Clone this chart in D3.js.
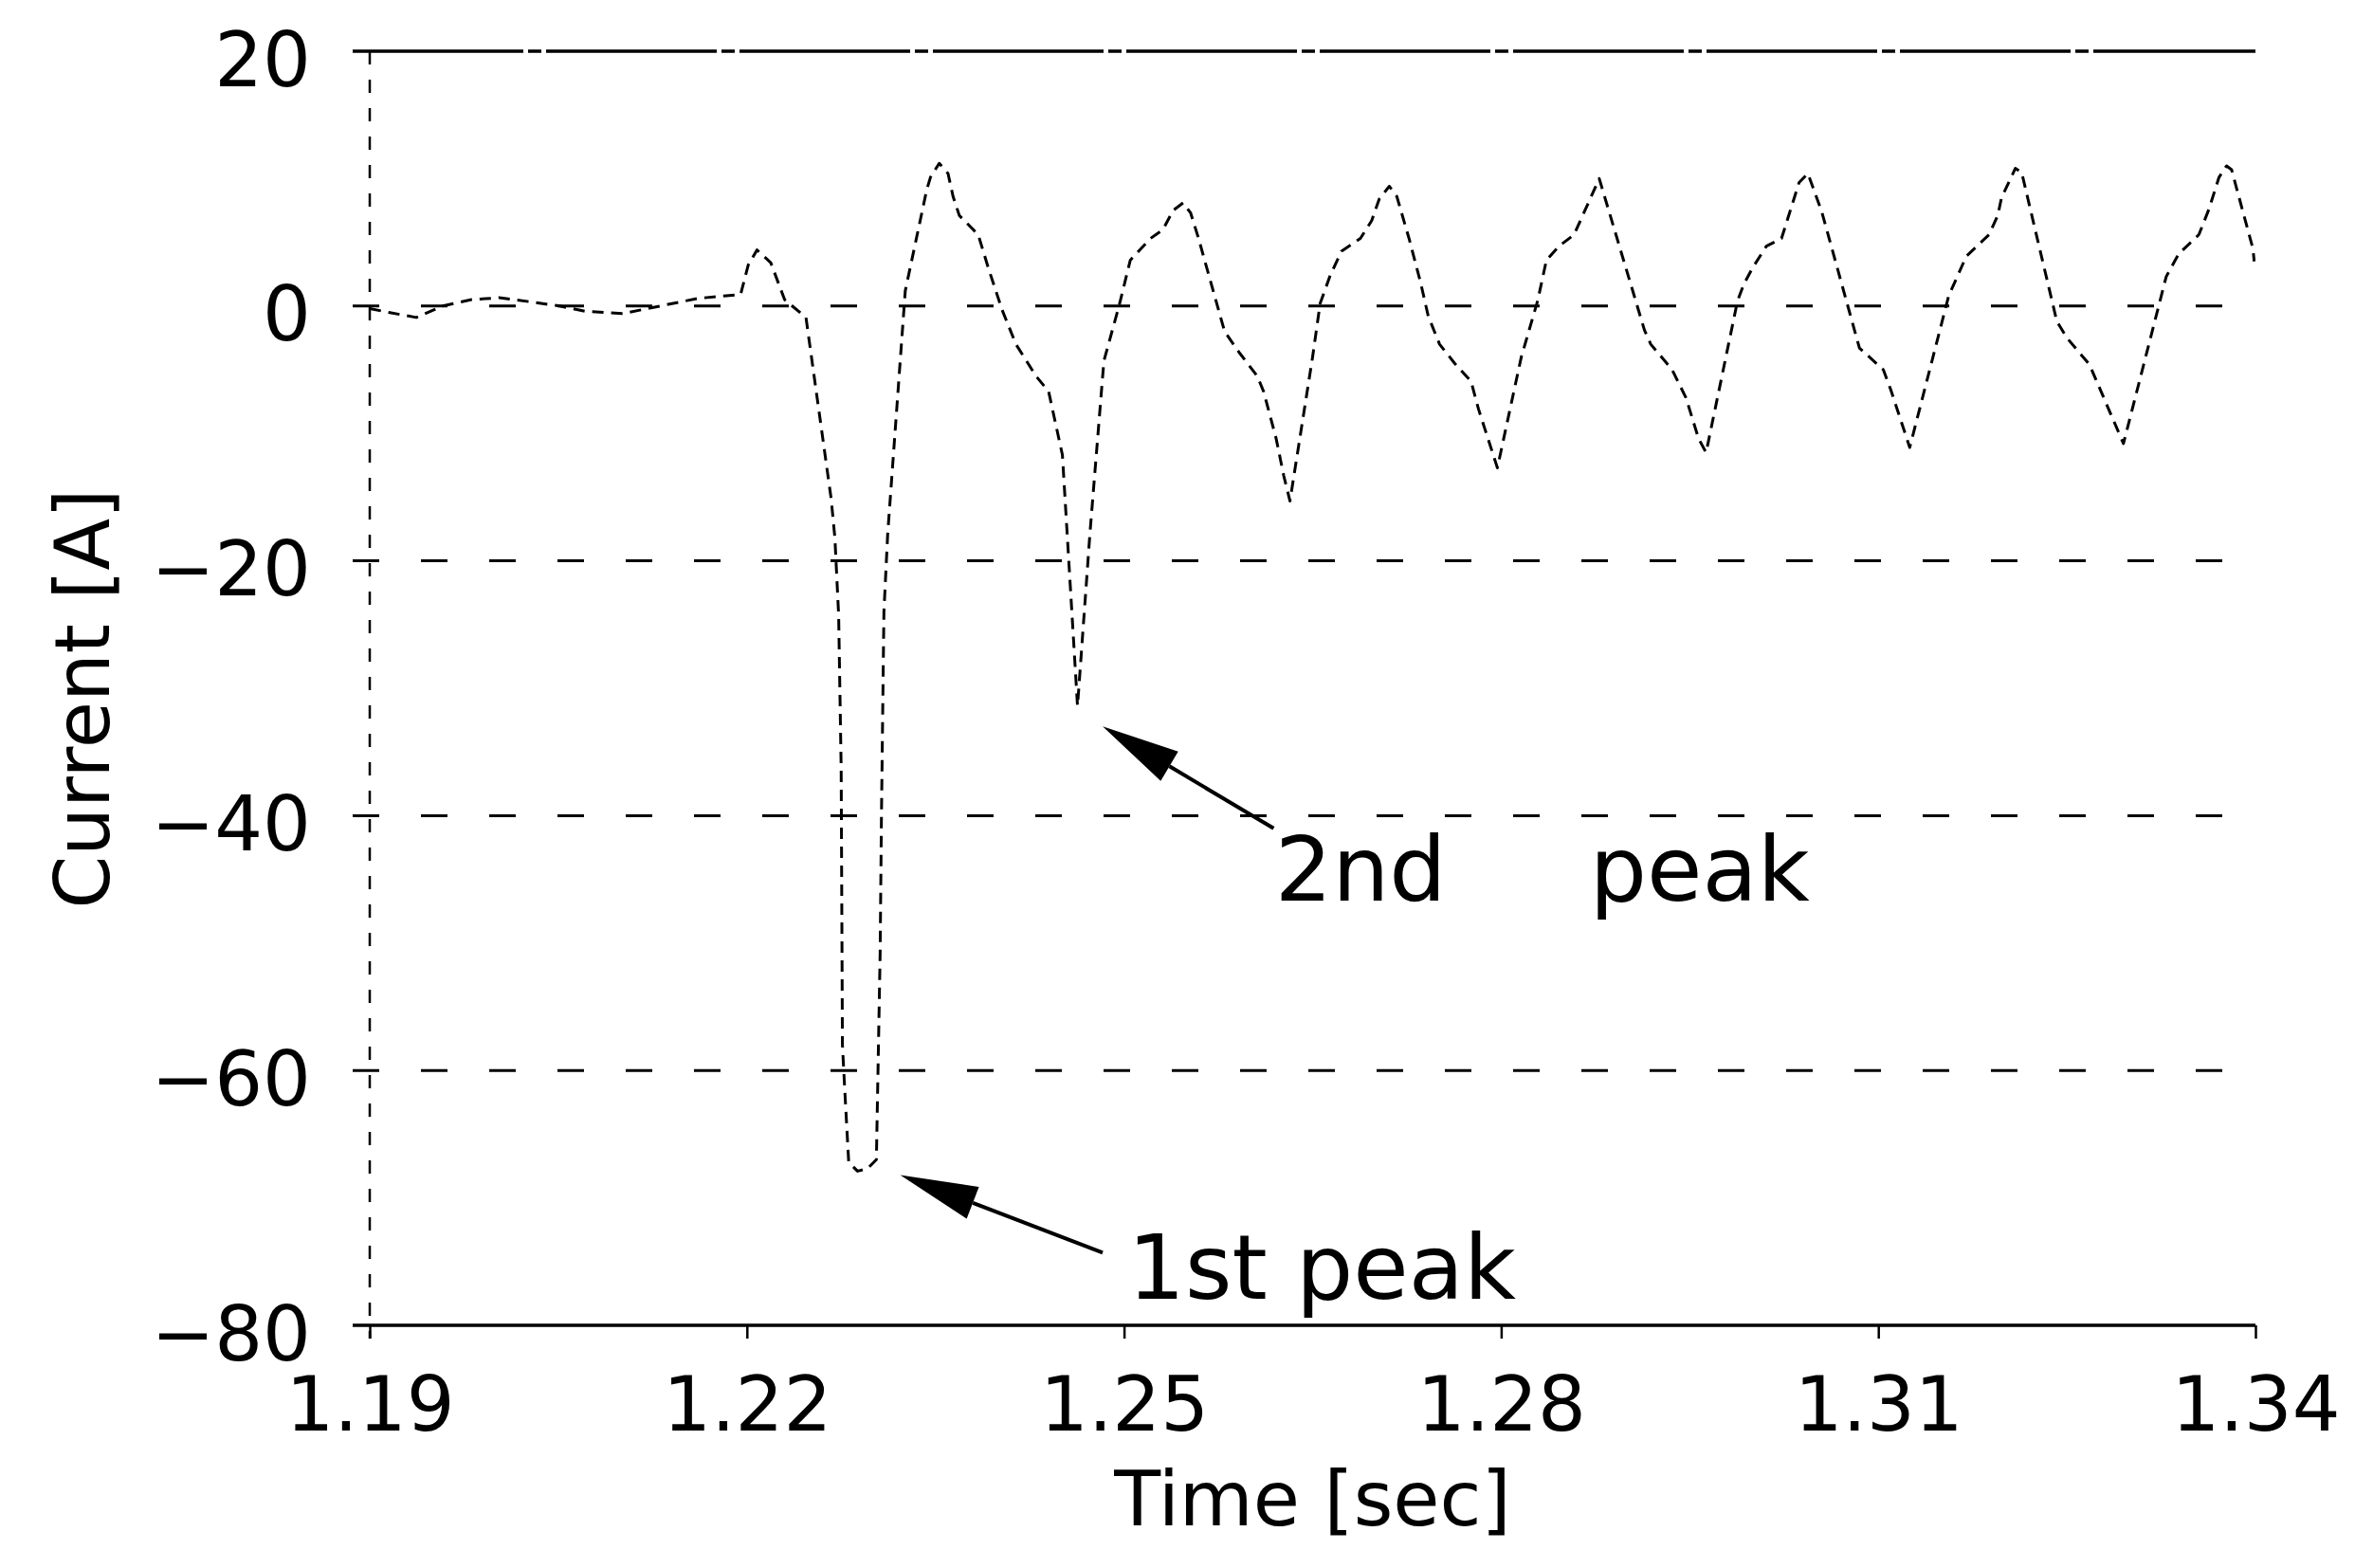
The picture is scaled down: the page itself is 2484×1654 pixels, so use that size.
<!DOCTYPE html>
<html>
<head>
<meta charset="utf-8">
<script src="https://cdn.jsdelivr.net/npm/d3@7/dist/d3.min.js"></script>
<style>
    body { margin: 0; background: #fff; }
    text { font-family: "DejaVu Sans", sans-serif; fill: #000; }
</style>
</head>
<body>
<div id="chart"></div>
<script>

// Time [sec] of each sample
const timeValues = [
    1.1900, 1.1915, 1.1937, 1.1958, 1.1981, 1.2003, 1.2030, 1.2051, 1.2071, 1.2101,
    1.2131, 1.2161, 1.2195, 1.2201, 1.2208, 1.2219, 1.2230, 1.2247, 1.2267, 1.2270,
    1.2273, 1.2275, 1.2276, 1.2278, 1.2281, 1.2288, 1.2296, 1.2303, 1.2306, 1.2307,
    1.2309, 1.2312, 1.2326, 1.2343, 1.2346, 1.2353, 1.2360, 1.2364, 1.2369, 1.2384,
    1.2392, 1.2403, 1.2414, 1.2430, 1.2440, 1.2451, 1.2463, 1.2473, 1.2484, 1.2496,
    1.2505, 1.2521, 1.2531, 1.2539, 1.2547, 1.2553, 1.2559, 1.2580, 1.2592, 1.2606,
    1.2611, 1.2621, 1.2627, 1.2632, 1.2650, 1.2656, 1.2664, 1.2673, 1.2688, 1.2697,
    1.2703, 1.2711, 1.2717, 1.2727, 1.2736, 1.2742, 1.2751, 1.2763, 1.2776, 1.2782,
    1.2797, 1.2816, 1.2829, 1.2836, 1.2846, 1.2858, 1.2878, 1.2914, 1.2919, 1.2936,
    1.2947, 1.2957, 1.2963, 1.2988, 1.2993, 1.3000, 1.3011, 1.3023, 1.3037, 1.3044,
    1.3055, 1.3085, 1.3104, 1.3110, 1.3125, 1.3156, 1.3170, 1.3188, 1.3195, 1.3198,
    1.3209, 1.3214, 1.3242, 1.3250, 1.3268, 1.3295, 1.3329, 1.3339, 1.3355, 1.3363,
    1.3371, 1.3377, 1.3381, 1.3398, 1.3399
];

// Current [A] at those times
const currentValues = [
    -0.2, -0.5, -0.9, 0.0, 0.5, 0.65, 0.3, 0.0, -0.4, -0.6,
    0.0, 0.6, 0.9, 3.2, 4.4, 3.4, 0.5, -0.9, -15.1, -18.2,
    -24.3, -36.3, -58.0, -61.8, -67.2, -67.9, -67.7, -67.0, -50.8, -40.4,
    -24.0, -17.9, 1.2, 9.1, 10.1, 11.2, 10.4, 8.6, 7.1, 5.6,
    3.0, -0.3, -3.0, -5.5, -6.7, -11.7, -31.4, -17.7, -4.3, 0.0,
    3.6, 5.3, 6.0, 7.5, 8.1, 7.3, 5.4, -2.0, -3.7, -5.5,
    -6.7, -10.4, -13.3, -15.3, -4.0, 0.2, 2.4, 4.3, 5.3, 6.7,
    8.4, 9.4, 8.6, 5.2, 1.8, -0.8, -3.0, -4.5, -5.9, -8.1,
    -12.7, -4.0, 0.4, 3.6, 4.7, 5.6, 10.0, -1.9, -3.0, -5.0,
    -7.2, -10.4, -11.5, 0.4, 1.7, 3.0, 4.7, 5.3, 9.7, 10.4,
    7.4, -3.3, -5.0, -6.6, -11.1, 0.8, 3.9, 5.6, 7.1, 8.5,
    10.8, 10.5, -1.2, -2.5, -4.6, -10.8, 2.3, 4.1, 5.6, 7.6,
    10.1, 11.0, 10.7, 4.5, 3.5
];

const xTickValues = [1.19, 1.22, 1.25, 1.28, 1.31, 1.34];
const yTickValues = [20, 0, -20, -40, -60, -80];

const xTitle = "Time [sec]";
const yTitle = "Current [A]";

// Peak annotations: label, arrow tip, arrow tail, label position (data units)
const peakLabels = ["1st peak", "2nd     peak"];
const peakTips = [[1.2322, -68.2], [1.2483, -33.0]];
const peakTails = [[1.2483, -74.3], [1.2619, -41.0]];
const peakLabelPos = [[1.2503, -77.9], [1.2620, -46.7]];


class CurrentChart {

    constructor(_parentElement) {
        this.parentElement = _parentElement;
        this.initVis();
    }

    initVis() {
        let vis = this;

        vis.margin = { top: 54, right: 105, bottom: 256, left: 390 };
        vis.width = 2484 - vis.margin.left - vis.margin.right;
        vis.height = 1654 - vis.margin.top - vis.margin.bottom;

        vis.svg = d3.select("#" + vis.parentElement).append("svg")
            .attr("width", vis.width + vis.margin.left + vis.margin.right)
            .attr("height", vis.height + vis.margin.top + vis.margin.bottom)
            .style("display", "block")
            .append("g")
            .attr("transform", "translate(" + vis.margin.left + "," + vis.margin.top + ")");

        // Scales
        vis.x = d3.scaleLinear()
            .domain([1.19, 1.34])
            .range([0, vis.width]);

        vis.y = d3.scaleLinear()
            .domain([-80, 20])
            .range([vis.height, 0]);

        vis.data = timeValues.map((t, i) => ({ time: t, current: currentValues[i] }));

        vis.drawGrid();
        vis.drawAxes();
        vis.drawLine();
        vis.drawAnnotations();
    }

    drawGrid() {
        let vis = this;

        // horizontal grid lines, dashed inside, heavier on the frame
        vis.svg.selectAll(".grid-h")
            .data(yTickValues)
            .enter().append("line")
            .attr("class", "grid-h")
            .attr("x1", -18)
            .attr("x2", vis.width)
            .attr("y1", d => vis.y(d))
            .attr("y2", d => vis.y(d))
            .attr("stroke", "#000")
            .attr("stroke-width", d => (d === 20 || d === -80) ? 3.5 : 3)
            .attr("stroke-dasharray", d => {
                if (d === -80) return null;
                if (d === 20) return "180,5,14,5";
                return "28,44";
            });

        // left vertical line at 1.19
        vis.svg.append("line")
            .attr("x1", vis.x(1.19))
            .attr("x2", vis.x(1.19))
            .attr("y1", vis.y(20))
            .attr("y2", vis.y(-80) + 14)
            .attr("stroke", "#000")
            .attr("stroke-width", 2.5)
            .attr("stroke-dasharray", "14,16");
    }

    drawAxes() {
        let vis = this;

        vis.xAxis = d3.axisBottom(vis.x)
            .tickValues(xTickValues)
            .tickFormat(d3.format(".2f"))
            .tickSize(14)
            .tickPadding(40);

        vis.yAxis = d3.axisLeft(vis.y)
            .tickValues(yTickValues)
            .tickFormat(d => d < 0 ? "\u2212" + Math.abs(d) : d)
            .tickSize(0)
            .tickPadding(62);

        let gx = vis.svg.append("g")
            .attr("class", "x-axis axis")
            .attr("transform", "translate(0," + vis.height + ")")
            .call(vis.xAxis);

        let gy = vis.svg.append("g")
            .attr("class", "y-axis axis")
            .call(vis.yAxis);

        [gx, gy].forEach(g => {
            g.select(".domain").remove();
            g.selectAll("line").attr("stroke", "#000").attr("stroke-width", 2.5);
            g.selectAll("text")
                .attr("font-family", "DejaVu Sans, sans-serif")
                .attr("font-size", 80)
                .attr("fill", "#000");
        });
        gy.selectAll("text").attr("dy", "0.45em");

        // Axis titles
        vis.svg.append("text")
            .attr("x", vis.width / 2)
            .attr("y", vis.height + 211)
            .attr("text-anchor", "middle")
            .attr("font-size", 80)
            .text(xTitle);

        vis.svg.append("text")
            .attr("transform", "translate(" + (115 - vis.margin.left) + "," + (737 - vis.margin.top) + ") rotate(-90)")
            .attr("text-anchor", "middle")
            .attr("font-size", 80)
            .text(yTitle);
    }

    drawLine() {
        let vis = this;

        vis.line = d3.line()
            .x(d => vis.x(d.time))
            .y(d => vis.y(d.current));

        // plotter trace, drawn broken like the scanned original
        vis.svg.append("path")
            .datum(vis.data)
            .attr("class", "trace")
            .attr("d", vis.line)
            .attr("fill", "none")
            .attr("stroke", "#000")
            .attr("stroke-width", 3)
            .attr("stroke-linejoin", "round")
            .attr("stroke-dasharray", "12,8");
    }

    drawAnnotations() {
        let vis = this;
        let headLen = 82, headHalf = 18;

        peakLabels.forEach((label, i) => {
            let tx = vis.x(peakTips[i][0]), ty = vis.y(peakTips[i][1]);
            let sx = vis.x(peakTails[i][0]), sy = vis.y(peakTails[i][1]);
            let len = Math.hypot(tx - sx, ty - sy);
            let ux = (tx - sx) / len, uy = (ty - sy) / len;
            let bx = tx - ux * headLen, by = ty - uy * headLen;

            vis.svg.append("line")
                .attr("x1", sx).attr("y1", sy)
                .attr("x2", bx).attr("y2", by)
                .attr("stroke", "#000")
                .attr("stroke-width", 4);

            vis.svg.append("polygon")
                .attr("points", [
                    [tx, ty],
                    [bx - uy * headHalf, by + ux * headHalf],
                    [bx + uy * headHalf, by - ux * headHalf]
                ].map(p => p.join(",")).join(" "))
                .attr("fill", "#000");

            vis.svg.append("text")
                .attr("x", vis.x(peakLabelPos[i][0]))
                .attr("y", vis.y(peakLabelPos[i][1]))
                .attr("font-size", 95)
                .style("white-space", "pre")
                .text(label);
        });
    }
}

new CurrentChart("chart");
</script>
</body>
</html>
